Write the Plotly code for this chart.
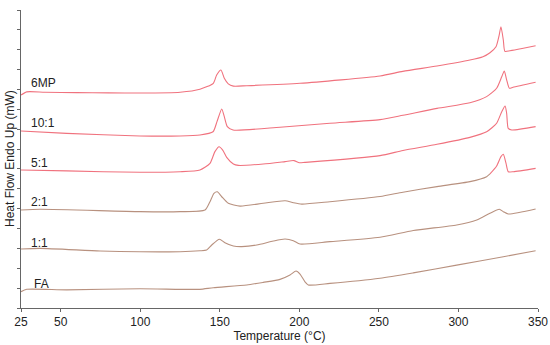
import plotly.graph_objects as go

# Temperature (°C) and heat-flow (arbitrary offset units) for each DSC curve
t_6mp = [25, 28.6, 40, 60, 80, 100, 125, 137.5, 145.9, 148, 150.7, 152.8, 155.3, 158.5, 166.9, 200.4, 250.7, 265, 286.5, 307.2, 315.4, 319.8, 323.6, 325.5, 326.7, 328.2, 329.2, 332.4, 340, 348.5]
v_6mp = [10.72, 10.88, 10.86, 10.84, 10.83, 10.82, 10.86, 11.01, 11.31, 11.73, 11.98, 11.56, 11.28, 11.17, 11.19, 11.31, 11.68, 11.91, 12.18, 12.48, 12.65, 12.85, 13.15, 13.7, 14.16, 13.49, 12.92, 12.95, 13.06, 13.2]

t_10 = [25, 53.7, 99.8, 125, 137.5, 145.7, 148.2, 151.2, 152.8, 154.7, 158.3, 187.8, 219.2, 250.7, 265.1, 286.5, 307.2, 317.7, 324, 327.2, 328.8, 330.3, 332, 334.3, 348.5]
v_10 = [8.91, 8.79, 8.66, 8.66, 8.71, 8.87, 9.38, 10.02, 9.63, 9.13, 8.96, 9.10, 9.30, 9.48, 9.70, 10.05, 10.33, 10.64, 11.06, 11.64, 11.93, 11.48, 11.06, 11.11, 11.36]

t_5 = [25, 53.7, 99.8, 125, 137.5, 143.8, 146.9, 149.5, 151.8, 154.3, 158.5, 161.6, 177.3, 191, 196.5, 200, 203.5, 250.7, 265.1, 286.5, 307.2, 317.7, 324, 327.2, 329.3, 330.3, 331.3, 333.5, 348.5]
v_5 = [6.95, 6.90, 6.83, 6.86, 6.95, 7.28, 7.87, 8.12, 7.95, 7.58, 7.25, 7.18, 7.25, 7.37, 7.42, 7.31, 7.33, 7.67, 7.93, 8.24, 8.59, 8.87, 9.30, 9.88, 10.17, 9.80, 9.04, 8.96, 9.13]

t_2 = [25, 37, 99.8, 125, 140.7, 143.8, 146.3, 148.4, 151.2, 155.3, 162.7, 177.3, 191, 196.2, 201.5, 219.2, 250.7, 265.1, 286.5, 307.2, 317.7, 319.8, 324, 326.7, 328.2, 329.9, 331.3, 334.5, 348.5]
v_2 = [4.93, 4.97, 4.85, 4.85, 4.93, 5.35, 5.77, 5.85, 5.60, 5.27, 5.13, 5.27, 5.40, 5.30, 5.23, 5.35, 5.61, 5.83, 6.11, 6.36, 6.61, 6.75, 7.15, 7.62, 7.74, 7.28, 6.86, 6.86, 7.03]
split_2 = 21  # index where the 2:1 trace colour changes

t_1 = [25, 37, 74.7, 99.8, 125, 137.5, 141.7, 144.9, 149.7, 153.2, 158.5, 163.8, 173.2, 183.6, 191, 196.2, 200.4, 219.2, 250.7, 271.6, 298.9, 311.5, 319.8, 325.7, 328.2, 331.3, 348.5]
v_1 = [2.97, 3.00, 2.87, 2.83, 2.83, 2.88, 2.92, 3.17, 3.46, 3.29, 3.12, 3.09, 3.17, 3.37, 3.47, 3.39, 3.22, 3.34, 3.56, 3.90, 4.18, 4.43, 4.77, 4.97, 4.85, 4.73, 4.98]

t_fa = [25, 28.6, 53.7, 99.8, 125, 137.5, 145.9, 166.9, 177.3, 187.8, 194.1, 197.9, 200.4, 203.5, 205.6, 219.2, 250.7, 271.6, 298.9, 328.2, 348.5]
v_fa = [0.82, 0.94, 0.91, 0.97, 0.94, 0.94, 1.02, 1.16, 1.29, 1.44, 1.66, 1.86, 1.71, 1.32, 1.16, 1.24, 1.50, 1.77, 2.16, 2.58, 2.88]

labels = ["6MP", "10:1", "5:1", "2:1", "1:1", "FA"]
label_x = [30, 30, 30, 30, 30, 32]
label_y = [11.33, 9.31, 7.30, 5.33, 3.27, 1.21]

x_ticks = [25, 50, 100, 150, 200, 250, 300, 350]

PINK = "#f0727e"
BROWN = "#b8917f"
FONT = "Liberation Sans, Arial"

fig = go.Figure()

def add(t, v, color):
    fig.add_trace(go.Scatter(x=t, y=v, mode="lines",
                             line=dict(color=color, width=1.1, shape="spline", smoothing=0.6),
                             showlegend=False, hoverinfo="skip"))

add(t_6mp, v_6mp, PINK)
add(t_10, v_10, PINK)
add(t_5, v_5, PINK)
add(t_2[:split_2 + 1], v_2[:split_2 + 1], BROWN)
add(t_2[split_2:], v_2[split_2:], PINK)
add(t_1, v_1, BROWN)
add(t_fa, v_fa, BROWN)

for lab, lx, ly in zip(labels, label_x, label_y):
    fig.add_annotation(x=lx, y=ly, text=lab, showarrow=False, xanchor="left", yanchor="middle",
                       font=dict(family=FONT, size=12, color="#222"))

fig.add_annotation(xref="paper", yref="paper", x=0, y=0.5, xshift=-11, text="Heat Flow Endo Up (mW)",
                   textangle=-90, showarrow=False, xanchor="center", yanchor="middle",
                   font=dict(family=FONT, size=12, color="#222"))

fig.update_layout(
    template="none",
    width=550, height=345,
    margin=dict(l=21, r=12, t=10, b=37, pad=0),
    paper_bgcolor="white", plot_bgcolor="white",
    font=dict(family=FONT, size=12, color="#222"),
    xaxis=dict(range=[25, 350], tickvals=x_ticks, ticktext=[str(v) for v in x_ticks],
               automargin=False, ticklabeloverflow="allow",
               showgrid=False, zeroline=False, showline=True, linecolor="#666", linewidth=1,
               ticks="outside", ticklen=3, tickcolor="#666",
               tickfont=dict(family=FONT, size=12, color="#222"),
               title=dict(text="Temperature (°C)", standoff=0,
                          font=dict(family=FONT, size=12, color="#222"))),
    yaxis=dict(range=[0, 15], dtick=1, showticklabels=False, automargin=False,
               showgrid=False, zeroline=False, showline=True, linecolor="#666", linewidth=1,
               ticks="outside", ticklen=3, tickcolor="#666"),
)

fig.write_html("out.html", config={"displayModeBar": False, "staticPlot": True},
               post_script="document.body.style.margin='0';document.body.style.overflow='hidden';")
